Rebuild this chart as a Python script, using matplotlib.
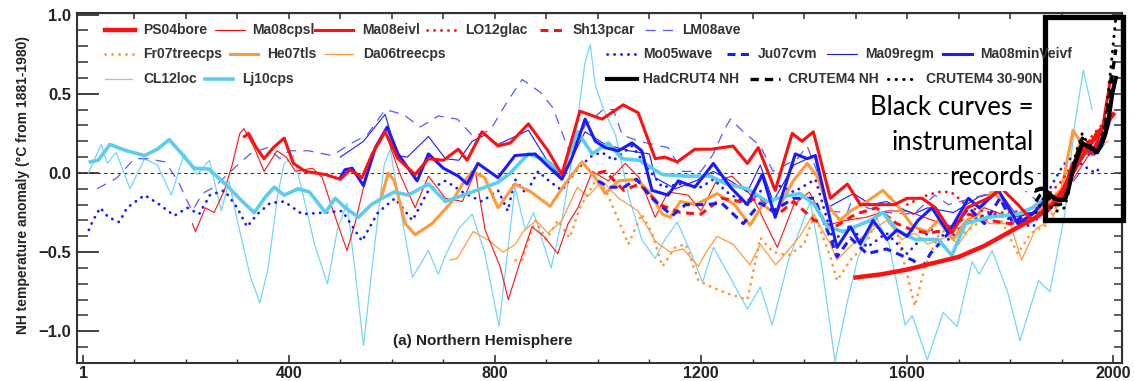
import matplotlib.pyplot as plt
from matplotlib.lines import Line2D
from matplotlib.patches import Rectangle

plt.rcParams['font.family'] = ['Liberation Sans', 'DejaVu Sans']

# ---- reconstructions (degC anomaly vs 1881-1980) ----
cl12loc_yr = [11, 36, 48, 65, 92, 120, 145, 172, 197, 222, 246, 269, 284, 300, 325, 344, 360, 378, 391,
              409, 425, 450, 475, 495, 513, 528, 545, 565, 585, 597, 615, 640, 671, 690, 704, 730, 756, 780,
              808, 839, 859, 875, 909, 930, 955, 975, 985, 995, 1010, 1034, 1060, 1085, 1111, 1130, 1154,
              1180, 1203, 1224, 1255, 1290, 1315, 1338, 1370, 1412, 1435, 1460, 1485, 1505, 1540, 1565,
              1596, 1610, 1639, 1670, 1697, 1726, 1740, 1765, 1795, 1819, 1855, 1877, 1906, 1925, 1942, 1959]
cl12loc_v = [0.0, 0.18, 0.06, 0.13, -0.10, 0.09, 0.05, -0.14, 0.12, -0.01, 0.08, -0.24, -0.05, -0.30, -0.65,
             -0.82, -0.60, -0.15, 0.06, 0.11, -0.10, -0.45, -0.70, -0.35, -0.19, -0.60, -1.09, -0.50, 0.05,
             0.15, -0.20, -0.66, -0.49, -0.64, -0.52, -0.35, -0.26, -0.50, -0.97, -0.09, -0.36, -0.25, -0.60,
             -0.30, 0.20, 0.70, 0.81, 0.55, 0.41, 0.24, -0.15, -0.42, -0.54, -0.42, -0.31, -0.50, -0.69, -0.47,
             -0.65, -0.86, -0.72, -0.96, -0.55, -0.18, -0.60, -1.19, -0.80, -0.53, -0.28, -0.45, -0.96, -0.90,
             -1.18, -0.88, -0.97, -0.56, -0.64, -0.49, -0.75, -1.06, -0.68, -0.75, -0.26, 0.30, 0.65, 0.40]

lj10cps_yr = [15, 30, 53, 85, 120, 145, 168, 190, 216, 245, 280, 310, 333, 355, 372, 391, 418, 440, 471, 490,
              510, 535, 560, 581, 605, 632, 671, 704, 730, 756, 806, 830, 865, 900, 930, 960, 989, 1020, 1047,
              1080, 1125, 1170, 1218, 1250, 1290, 1328, 1360, 1392, 1420, 1445, 1476, 1528, 1553, 1580, 1615,
              1660, 1687, 1713, 1757, 1815, 1843, 1868, 1901, 1932, 1970, 1980]
lj10cps_v = [0.07, 0.08, 0.18, 0.14, 0.11, 0.15, 0.21, 0.13, 0.03, 0.025, -0.08, -0.18, -0.25, -0.15, -0.09,
             -0.14, -0.10, -0.12, -0.25, -0.16, -0.22, -0.28, -0.20, -0.16, -0.12, -0.14, -0.07, -0.18, -0.15,
             -0.12, -0.06, 0.0, 0.12, 0.08, 0.0, 0.26, 0.12, 0.19, 0.09, 0.08, -0.01, -0.02, -0.02, -0.07,
             -0.10, -0.18, -0.15, -0.13, -0.20, -0.34, -0.37, -0.30, -0.25, -0.36, -0.42, -0.42, -0.52, -0.32,
             -0.28, -0.26, -0.22, -0.16, -0.16, 0.12, 0.14, 0.18]

ps04bore_yr = [1500, 1550, 1600, 1650, 1700, 1750, 1800, 1850, 1877, 1900, 1916, 1935, 1955, 1975, 2000]
ps04bore_v = [-0.66, -0.64, -0.61, -0.57, -0.53, -0.46, -0.37, -0.28, -0.22, -0.12, -0.03, 0.08, 0.18, 0.27, 0.37]

ma08eivl_yr = [314, 322, 335, 352, 370, 391, 409, 432, 471, 500, 519, 542, 562, 587, 612, 645, 671, 700, 729,
               746, 775, 806, 830, 865, 903, 930, 965, 1008, 1049, 1078, 1111, 1130, 1154, 1188, 1220, 1262,
               1290, 1311, 1344, 1377, 1396, 1418, 1451, 1484, 1509, 1548, 1575, 1600, 1629, 1655, 1687, 1716,
               1757, 1784, 1815, 1843, 1870, 1900, 1920, 1940, 1960, 1980, 1995]
ma08eivl_v = [0.23, 0.25, 0.17, 0.09, 0.16, 0.22, 0.06, 0.01, -0.01, -0.04, 0.02, -0.03, 0.12, 0.26, 0.09, -0.01,
              0.09, 0.08, 0.15, 0.08, 0.26, 0.17, 0.19, 0.31, 0.14, -0.01, 0.39, 0.34, 0.43, 0.38, 0.09, 0.10,
              0.07, 0.15, 0.15, 0.17, 0.06, 0.16, -0.11, 0.25, 0.20, 0.26, -0.16, -0.07, -0.20, -0.20, -0.20,
              -0.16, -0.16, -0.22, -0.38, -0.22, -0.16, -0.10, -0.20, -0.30, -0.22, -0.15, 0.05, 0.15, 0.12,
              0.30, 0.60]

ma08cpsl_yr = [213, 219, 238, 255, 275, 290, 305, 313, 333, 352, 377, 395, 413, 446, 465, 484, 513, 530, 548,
               568, 587, 616, 645, 671, 704, 737, 762, 781, 810, 826, 850, 872, 895, 922, 942, 961, 989, 1020,
               1053, 1080, 1111, 1136, 1175, 1200, 1230, 1260, 1300, 1348, 1380, 1410, 1445, 1480, 1520, 1560,
               1600, 1650, 1700, 1750, 1800, 1850, 1900, 1950, 1995]
ma08cpsl_v = [-0.32, -0.37, -0.22, -0.25, -0.11, 0.05, 0.25, 0.28, 0.16, 0.01, 0.14, 0.10, 0.01, 0.03, -0.03,
              -0.22, -0.49, -0.30, -0.05, 0.16, 0.26, -0.01, -0.22, -0.02, -0.16, -0.18, 0.01, -0.36, -0.59,
              -0.80, -0.55, -0.34, -0.40, -0.51, -0.32, -0.22, 0.01, -0.05, 0.06, -0.03, -0.28, -0.12, -0.14,
              -0.24, -0.05, -0.02, -0.15, -0.47, -0.20, -0.12, -0.33, -0.30, -0.28, -0.24, -0.24, -0.30, -0.35,
              -0.22, -0.28, -0.25, -0.15, 0.10, 0.35]

sh13pcar_yr = [1000, 1014, 1050, 1080, 1120, 1160, 1200, 1240, 1275, 1315, 1350, 1380, 1420, 1460, 1500, 1540,
               1580, 1610, 1640, 1680, 1720, 1760, 1800, 1840, 1870, 1900, 1940, 1995]
sh13pcar_v = [0.0, 0.01, -0.11, -0.07, -0.20, -0.25, -0.26, -0.16, -0.18, -0.16, -0.26, -0.18, -0.30, -0.34,
              -0.26, -0.22, -0.32, -0.36, -0.38, -0.36, -0.26, -0.30, -0.32, -0.30, -0.25, -0.15, 0.15, 0.35]

lo12glac_yr = [1600, 1630, 1660, 1685, 1700, 1720, 1760, 1800, 1850, 1900, 1950, 1990]
lo12glac_v = [-0.20, -0.15, -0.12, -0.12, -0.16, -0.22, -0.25, -0.25, -0.22, -0.05, 0.20, 0.35]

lm08ave_yr = [28, 67, 100, 125, 160, 185, 203, 213, 232, 255, 294, 325, 358, 383, 400, 438, 484, 523, 552, 587,
              622, 655, 690, 727, 758, 791, 824, 853, 888, 913, 932, 946, 975, 1010, 1030, 1047, 1080, 1136,
              1164, 1200, 1224, 1243, 1257, 1282, 1315, 1340, 1387, 1406, 1425, 1445, 1484, 1496, 1522, 1560,
              1612, 1654, 1680, 1726, 1770, 1804, 1825, 1860, 1900, 1935]
lm08ave_v = [-0.10, -0.03, 0.09, 0.09, 0.07, -0.05, -0.18, -0.24, -0.13, -0.09, 0.03, 0.12, 0.16, 0.09, 0.14,
             0.14, 0.11, 0.19, 0.24, 0.40, 0.37, 0.29, 0.36, 0.34, 0.23, 0.27, 0.45, 0.59, 0.51, 0.41, 0.24,
             0.12, 0.30, 0.40, 0.40, 0.24, 0.20, 0.16, 0.01, 0.01, 0.12, 0.26, 0.34, 0.26, 0.17, 0.01, 0.09,
             0.17, 0.01, -0.24, -0.25, -0.14, -0.22, -0.25, -0.26, -0.14, -0.20, -0.16, -0.12, 0.04, -0.10,
             -0.20, -0.15, 0.0]

fr07_yr = [840, 853, 878, 900, 922, 945, 965, 995, 1014, 1040, 1059, 1085, 1105, 1125, 1150, 1170, 1195, 1220,
           1250, 1290, 1315, 1340, 1370, 1400, 1420, 1451, 1464, 1490, 1520, 1548, 1575, 1596, 1615, 1635, 1660,
           1687, 1710, 1745, 1775, 1815, 1840, 1870, 1900, 1930, 1960, 1990]
fr07_v = [-0.55, -0.55, -0.30, -0.42, -0.30, -0.41, -0.22, -0.05, -0.10, -0.30, -0.45, -0.26, -0.38, -0.59,
          -0.47, -0.45, -0.68, -0.72, -0.76, -0.80, -0.41, -0.50, -0.52, -0.45, -0.26, -0.53, -0.68, -0.55,
          -0.45, -0.24, -0.30, -0.59, -0.84, -0.59, -0.40, -0.32, -0.38, -0.30, -0.25, -0.51, -0.38, -0.33,
          -0.15, 0.15, 0.15, 0.20]

he07_yr = [580, 593, 605, 626, 645, 678, 717, 737, 756, 780, 806, 839, 870, 907, 936, 969, 995, 1014, 1040,
           1075, 1100, 1125, 1140, 1160, 1190, 1231, 1265, 1295, 1320, 1345, 1379, 1406, 1425, 1445, 1470, 1490,
           1522, 1553, 1580, 1612, 1640, 1660, 1690, 1715, 1738, 1765, 1790, 1815, 1843, 1870, 1900, 1922,
           1940, 1960]
he07_v = [-0.15, 0.0, -0.05, -0.32, -0.39, -0.32, -0.18, -0.07, 0.01, -0.03, -0.22, -0.07, -0.12, -0.21, -0.07,
          0.07, -0.03, -0.13, -0.05, -0.04, -0.12, -0.26, -0.28, -0.18, -0.20, -0.13, -0.20, -0.33, -0.20,
          -0.26, -0.05, 0.06, -0.02, -0.20, -0.30, -0.24, -0.18, -0.11, -0.20, -0.34, -0.37, -0.30, -0.42,
          -0.30, -0.26, -0.11, -0.20, -0.32, -0.26, -0.20, -0.10, 0.27, 0.18, 0.15]

da06_yr = [713, 727, 758, 790, 816, 840, 855, 880, 903, 930, 960, 980, 1008, 1040, 1078, 1111, 1140, 1165, 1195,
           1210, 1231, 1262, 1295, 1315, 1345, 1392, 1418, 1451, 1464, 1500, 1560, 1590, 1615, 1640, 1680, 1700,
           1740, 1760, 1800, 1822, 1850, 1880, 1900, 1935, 1960, 1990]
da06_v = [-0.55, -0.54, -0.37, -0.43, -0.50, -0.45, -0.37, -0.30, -0.38, -0.30, -0.09, -0.15, -0.05, -0.16,
          -0.24, -0.43, -0.50, -0.48, -0.59, -0.50, -0.40, -0.45, -0.58, -0.45, -0.58, -0.40, -0.26, -0.45,
          -0.55, -0.43, -0.30, -0.42, -0.38, -0.45, -0.40, -0.45, -0.26, -0.32, -0.32, -0.55, -0.35, -0.30,
          -0.15, 0.20, 0.15, 0.20]

mo05_yr = [12, 20, 34, 50, 71, 86, 120, 145, 178, 203, 226, 247, 275, 300, 319, 339, 364, 391, 426, 470, 504,
           542, 573, 606, 640, 671, 704, 742, 775, 806, 825, 839, 860, 884, 905, 930, 961, 989, 1008, 1030, 1066,
           1097, 1125, 1160, 1200, 1224, 1250, 1290, 1320, 1350, 1380, 1422, 1457, 1490, 1522, 1560, 1600, 1620,
           1650, 1680, 1720, 1760, 1790, 1820, 1845, 1880, 1903, 1920, 1945, 1965, 1979]
mo05_v = [-0.36, -0.30, -0.22, -0.28, -0.31, -0.22, -0.14, -0.19, -0.27, -0.22, -0.26, -0.14, -0.11, -0.22,
          -0.34, -0.26, -0.19, -0.18, -0.26, -0.25, -0.24, -0.43, -0.25, -0.16, -0.30, -0.11, -0.05, -0.13,
          -0.18, -0.11, -0.24, -0.04, -0.13, 0.01, -0.05, -0.11, 0.03, 0.11, 0.13, 0.08, 0.17, 0.03, -0.09,
          -0.07, -0.09, -0.04, -0.12, -0.20, -0.10, -0.08, -0.12, -0.04, -0.43, -0.33, -0.47, -0.38, -0.51,
          -0.44, -0.35, -0.42, -0.31, -0.25, -0.28, -0.32, -0.34, -0.08, 0.05, 0.10, 0.04, 0.0, 0.05]

ju07_yr = [1000, 1020, 1050, 1075, 1105, 1144, 1170, 1210, 1240, 1282, 1315, 1340, 1380, 1420, 1451, 1464, 1490,
           1522, 1560, 1610, 1631, 1645, 1680, 1720, 1750, 1780, 1806, 1830, 1860, 1900, 1940, 1960, 1990]
ju07_v = [-0.05, -0.09, -0.09, -0.04, -0.16, -0.27, -0.20, -0.20, -0.19, -0.32, -0.19, -0.24, -0.16, -0.16,
          -0.41, -0.53, -0.41, -0.51, -0.48, -0.55, -0.59, -0.51, -0.38, -0.22, -0.32, -0.16, -0.32, -0.26,
          -0.25, -0.15, 0.15, 0.10, 0.30]

ma09regm_yr = [500, 509, 545, 587, 610, 630, 671, 704, 730, 756, 781, 806, 865, 903, 930, 975, 1014, 1060, 1100,
               1111, 1150, 1190, 1224, 1257, 1290, 1315, 1340, 1380, 1420, 1445, 1496, 1530, 1560, 1612, 1640,
               1690, 1740, 1780, 1815, 1850, 1900, 1940, 1960, 1990]
ma09regm_v = [0.10, 0.12, 0.20, 0.37, 0.11, 0.10, 0.23, 0.09, 0.08, 0.20, 0.24, 0.18, 0.27, 0.07, -0.03, 0.26,
              0.18, 0.14, 0.12, -0.03, -0.10, -0.05, 0.01, -0.05, -0.12, 0.05, -0.18, 0.05, 0.11, -0.22, -0.13,
              -0.20, -0.18, -0.26, -0.22, -0.25, -0.15, -0.12, -0.28, -0.24, -0.10, 0.15, 0.12, 0.30]

ma08min_yr = [500, 509, 523, 545, 568, 591, 612, 649, 671, 700, 729, 746, 767, 806, 839, 878, 930, 950, 975, 995,
              1014, 1040, 1066, 1085, 1105, 1136, 1156, 1188, 1224, 1257, 1290, 1319, 1344, 1383, 1406, 1422,
              1451, 1464, 1490, 1509, 1534, 1561, 1580, 1600, 1621, 1648, 1680, 1719, 1740, 1777, 1815, 1843,
              1877, 1903, 1936, 1955, 1981, 1995]
ma08min_v = [-0.03, 0.02, 0.03, -0.08, 0.16, 0.29, 0.12, -0.05, 0.12, 0.03, -0.02, -0.07, 0.06, -0.03, 0.11,
             0.12, -0.04, 0.10, 0.34, 0.20, 0.16, 0.14, 0.19, 0.14, -0.11, -0.14, -0.05, -0.09, 0.06, -0.09,
             -0.20, -0.01, -0.28, 0.12, 0.09, 0.11, -0.30, -0.47, -0.34, -0.45, -0.30, -0.42, -0.36, -0.40,
             -0.30, -0.22, -0.38, -0.16, -0.22, -0.11, -0.32, -0.26, -0.14, -0.17, 0.14, 0.14, 0.20, 0.35]

# ---- instrumental records ----
inst_yr = [1850, 1858, 1866, 1875, 1885, 1895, 1905, 1912, 1920, 1930, 1940, 1948, 1958, 1968, 1976, 1985,
           1992, 1998, 2005]
hadcrut4_v = [-0.11, -0.10, -0.10, -0.13, -0.16, -0.17, -0.17, -0.12, 0.0, 0.10, 0.19, 0.17, 0.16, 0.13, 0.17,
              0.25, 0.36, 0.50, 0.60]
crutem4_v = [-0.18, -0.14, -0.12, -0.16, -0.20, -0.20, -0.19, -0.12, 0.0, 0.12, 0.22, 0.18, 0.15, 0.12, 0.18,
             0.30, 0.45, 0.62, 0.78]
crutem4n_v = [-0.25, -0.20, -0.15, -0.20, -0.24, -0.24, -0.22, -0.14, 0.02, 0.15, 0.25, 0.20, 0.16, 0.12, 0.20,
              0.35, 0.55, 0.75, 0.98]

RED, ORANGE, BLUE = '#ff1010', '#ff9a3c', '#1a1aff'
LBLUE, LBLUE2 = '#5ccdf0', '#74d6f4'
DOT = (0, (0.1, 2.4))

# name, x, y, style, legend handle (x0, x1, text_x, row_y in pixels)
series = [
    ('CL12loc', cl12loc_yr, cl12loc_v, dict(color=LBLUE2, lw=0.9), (105, 132, 143, 79)),
    ('Da06treecps', da06_yr, da06_v, dict(color=ORANGE, lw=0.9), (325, 353, 363, 54)),
    ('Fr07treecps', fr07_yr, fr07_v, dict(color=ORANGE, lw=2.0, ls=DOT, dash_capstyle='round'), (105, 133, 143, 54)),
    ('Ma08cpsl', ma08cpsl_yr, ma08cpsl_v, dict(color=RED, lw=0.8), (215, 245, 252, 30)),
    ('Ma09regm', ma09regm_yr, ma09regm_v, dict(color=BLUE, lw=0.8), (827, 857, 865, 54)),
    ('LM08ave', lm08ave_yr, lm08ave_v, dict(color='#5858ff', lw=0.9, ls=(0, (8, 6))), (645, 673, 682, 30)),
    ('Mo05wave', mo05_yr, mo05_v, dict(color=BLUE, lw=2.0, ls=DOT, dash_capstyle='round'), (607, 637, 643, 54)),
    ('He07tls', he07_yr, he07_v, dict(color=ORANGE, lw=2.2), (230, 258, 267, 54)),
    ('Sh13pcar', sh13pcar_yr, sh13pcar_v, dict(color=RED, lw=2.2, ls=(0, (2.6, 1.8))), (540, 565, 573, 30)),
    ('Ju07cvm', ju07_yr, ju07_v, dict(color=BLUE, lw=2.2, ls=(0, (2.6, 1.8))), (727, 750, 758, 54)),
    ('LO12glac', lo12glac_yr, lo12glac_v, dict(color=RED, lw=2.0, ls=DOT, dash_capstyle='round'), (427, 457, 465, 30)),
    ('Lj10cps', lj10cps_yr, lj10cps_v, dict(color=LBLUE, lw=2.6), (205, 233, 242, 79)),
    ('Ma08minVeivf', ma08min_yr, ma08min_v, dict(color=BLUE, lw=2.2), (943, 972, 980, 54)),
    ('Ma08eivl', ma08eivl_yr, ma08eivl_v, dict(color=RED, lw=2.2), (315, 353, 362, 30)),
    ('PS04bore', ps04bore_yr, ps04bore_v, dict(color=RED, lw=3.2), (105, 135, 143, 30)),
    ('CRUTEM4 30-90N', inst_yr, crutem4n_v, dict(color='black', lw=2.2, ls=DOT, dash_capstyle='round'), (888, 917, 926, 79)),
    ('CRUTEM4 NH', inst_yr, crutem4_v, dict(color='black', lw=2.4, ls=(0, (2.5, 1.8))), (750, 780, 788, 79)),
    ('HadCRUT4 NH', inst_yr, hadcrut4_v, dict(color='black', lw=3.0), (607, 637, 643, 79)),
]

W, H = 1134, 381
fig = plt.figure(figsize=(W / 100, H / 100), dpi=100)
ax = fig.add_axes([77 / W, 1 - 363 / H, (1122 - 77) / W, (363 - 13) / H])

ax.axhline(0, color='#333333', lw=0.8, ls=(0, (3, 3)), zorder=1)
for name, xs, ys, st, _ in series:
    ax.plot(xs, ys, solid_joinstyle='round', zorder=2, **st)

ax.set_xlim(-11, 2017)
ax.set_ylim(-1.2, 1.01)

for s in ax.spines.values():
    s.set_color('#333333')
    s.set_linewidth(1.5)

ax.set_xticks([1, 400, 800, 1200, 1600, 2000])
ax.set_xticks(range(100, 2000, 100), minor=True)
ax.set_yticks([-1.0, -0.5, 0.0, 0.5, 1.0])
ax.set_yticks([v / 10 for v in range(-11, 10)], minor=True)
ax.tick_params(axis='y', which='major', direction='in', length=16, width=1.3, color='#333333', pad=4,
               labelsize=12, labelcolor='#222222')
ax.tick_params(axis='y', which='minor', direction='in', length=8, width=1.1, color='#333333')
ax.tick_params(axis='x', which='major', direction='in', length=6, width=1.2, color='#333333', pad=2.5,
               labelsize=11.5, labelcolor='#222222')
ax.tick_params(axis='x', which='minor', direction='in', length=3, width=1.0, color='#333333')
for lab in ax.get_xticklabels() + ax.get_yticklabels():
    lab.set_fontweight('bold')

top = ax.secondary_xaxis('top')
top.set_xticks(range(100, 2001, 100))
top.set_xticklabels([])
top.tick_params(direction='in', length=4, width=1.1, color='#333333')
right = ax.secondary_yaxis('right')
right.set_yticks([v / 10 for v in range(-11, 11)])
right.set_yticklabels([])
right.tick_params(direction='in', length=6, width=1.1, color='#333333')

ax.set_ylabel('NH temperature anomaly (°C from 1881-1980)', fontsize=10, fontweight='bold', color='#222222')
ax.yaxis.set_label_coords(-0.045, 0.51)

ax.text(393 / W, 1 - 345 / H, '(a) Northern Hemisphere', transform=fig.transFigure, fontsize=11,
        fontweight='bold', color='#222222', va='baseline')

# legend keys laid out like the original figure
for name, xs, ys, st, (x0, x1, tx, yy) in series:
    fy = 1 - yy / H
    fig.add_artist(Line2D([x0 / W, x1 / W], [fy, fy], transform=fig.transFigure, **st))
    fig.text(tx / W, fy, name, fontsize=10, fontweight='bold', color='#333333', va='center')

# annotation and box around the instrumental period
for line, base in [('Black curves =', 115), ('instrumental', 150), ('records', 185)]:
    fig.text(1034 / W, 1 - base / H, line, family=['Lato', 'DejaVu Sans'], fontsize=18.5, ha='right',
             va='baseline', color='black', zorder=5,
             bbox=dict(facecolor='white', edgecolor='none', pad=0.5))
ax.add_patch(Rectangle((1867, -0.297), 151, 1.281, fill=False, edgecolor='black', lw=3.8,
                       clip_on=False, zorder=10))

fig.savefig('out.png', dpi=100)
